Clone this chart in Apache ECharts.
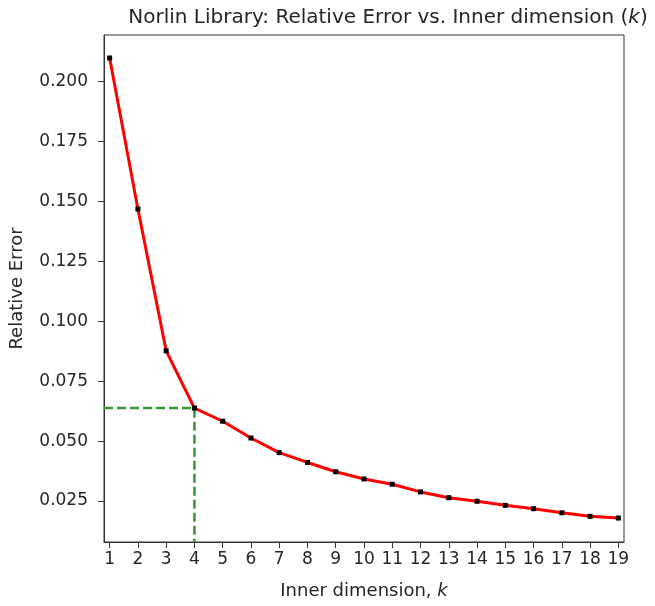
<!DOCTYPE html>
<html>
<head>
<meta charset="utf-8">
<script src="https://cdn.jsdelivr.net/npm/echarts@6/dist/echarts.min.js"></script>
<style>
  html, body { margin: 0; padding: 0; background: #fff; }
  #chart { width: 655px; height: 606px; }
</style>
</head>
<body>
<div id="chart"></div>
<script>
var kValues = [1, 2, 3, 4, 5, 6, 7, 8, 9, 10, 11, 12, 13, 14, 15, 16, 17, 18, 19];
var errValues = [0.2099, 0.1469, 0.0877, 0.0638, 0.0583, 0.0513, 0.0452, 0.0411, 0.0372, 0.0342,
                 0.0320, 0.0288, 0.0264, 0.0249, 0.0232, 0.0218, 0.0201, 0.0186, 0.0179];
var yTicks = [0.025, 0.050, 0.075, 0.100, 0.125, 0.150, 0.175, 0.200];
var elbowIndex = 3; // k = 4

var xMin = 0.8, xMax = 19.2;
var yMin = 0.0079, yMax = 0.2195;

var font = 'DejaVu Sans';
var txt = '#262626';

var mainData = kValues.map(function (k, i) { return [k, errValues[i]]; });
var elbow = [kValues[elbowIndex], errValues[elbowIndex]];
var guideData = [[xMin, elbow[1]], elbow, [elbow[0], yMin]];

var chart = echarts.init(document.getElementById('chart'));
chart.setOption({
  animation: false,
  backgroundColor: '#fff',
  title: {
    text: 'Norlin Library: Relative Error vs. Inner dimension ({i|k})',
    left: 383,
    top: 3,
    textAlign: 'center',
    textStyle: {
      fontFamily: font, fontSize: 20, fontWeight: 'normal', color: txt,
      rich: { i: { fontFamily: font, fontSize: 20, fontStyle: 'italic', color: txt } }
    }
  },
  grid: {
    left: 104, top: 35, right: 31, bottom: 64,
    show: true, borderColor: '#333', borderWidth: 1, backgroundColor: '#fff'
  },
  xAxis: {
    type: 'value',
    min: xMin, max: xMax,
    name: 'Inner dimension, {i|k}',
    nameLocation: 'middle',
    nameGap: 40,
    nameTextStyle: {
      fontFamily: font, fontSize: 18, color: txt,
      rich: { i: { fontFamily: font, fontSize: 18, fontStyle: 'italic', color: txt } }
    },
    splitLine: { show: false },
    axisLine: { show: true, onZero: false, lineStyle: { color: '#333', width: 1 } },
    axisTick: { show: true, customValues: kValues, length: 6, lineStyle: { color: '#333' } },
    axisLabel: {
      customValues: kValues, margin: 9,
      fontFamily: font, fontSize: 17, color: txt
    }
  },
  yAxis: {
    type: 'value',
    min: yMin, max: yMax,
    name: 'Relative Error',
    nameLocation: 'middle',
    nameGap: 78,
    nameTextStyle: { fontFamily: font, fontSize: 18, color: txt },
    splitLine: { show: false },
    axisLine: { show: true, onZero: false, lineStyle: { color: '#333', width: 1 } },
    axisTick: { show: true, customValues: yTicks, length: 6, lineStyle: { color: '#333' } },
    axisLabel: {
      customValues: yTicks, margin: 16,
      fontFamily: font, fontSize: 17, color: txt,
      formatter: function (v) { return v.toFixed(3); }
    }
  },
  series: [
    {
      type: 'line',
      data: guideData,
      symbol: 'none',
      lineStyle: { color: '#339933', width: 2.5, type: [9, 4] },
      z: 1
    },
    {
      type: 'line',
      data: mainData,
      symbol: 'rect',
      symbolSize: 5,
      showAllSymbol: true,
      lineStyle: { color: '#ff0000', width: 3 },
      itemStyle: { color: '#000' },
      z: 2
    }
  ]
});
</script>
</body>
</html>
